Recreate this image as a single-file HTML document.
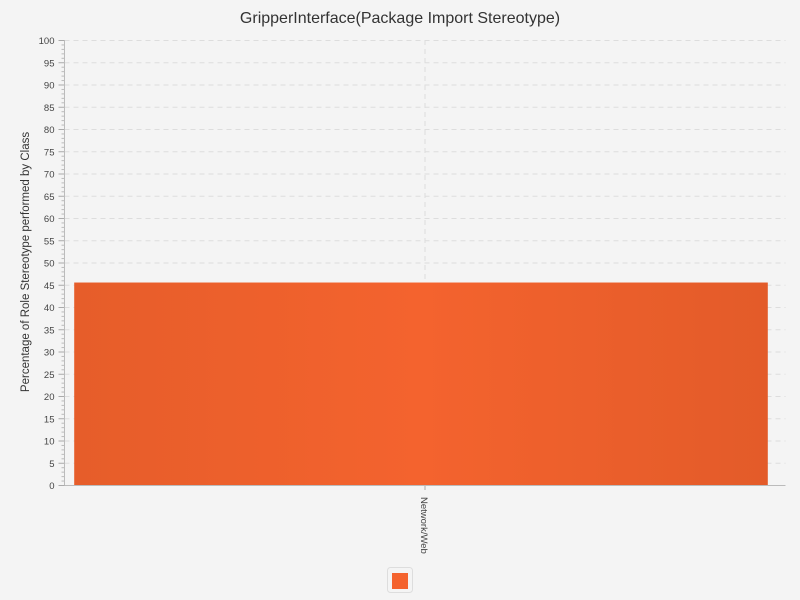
<!DOCTYPE html>
<html><head><meta charset="utf-8"><style>
body{margin:0;background:#f4f4f4;font-family:"Liberation Sans",sans-serif;overflow:hidden;}
svg{display:block;}
</style></head><body>
<svg width="800" height="600" xmlns="http://www.w3.org/2000/svg">
<defs><linearGradient id="g" x1="0" x2="1"><stop offset="0" stop-color="#e65d2a"/><stop offset="0.5" stop-color="#f4632e"/><stop offset="1" stop-color="#e35b29"/></linearGradient></defs>
<rect width="800" height="600" fill="#f4f4f4"/>
<text x="400" y="23" text-anchor="middle" font-size="16" fill="#333">GripperInterface(Package Import Stereotype)</text>
<text transform="translate(29,262) rotate(-90)" text-anchor="middle" font-size="11.5" fill="#333">Percentage of Role Stereotype performed by Class</text>
<g id="grid"></g><g id="bars"></g><g id="axes"></g>
<g>
<rect x="387.5" y="567.5" width="25" height="25" rx="3" fill="#f4f4f4" stroke="#ddd"/>
<rect x="392" y="573" width="16" height="16" fill="#f4632e"/>
</g>
</svg>
<script>
const categories=["Network/Web"];
const values=[45.5];
const yTicks=[0,5,10,15,20,25,30,35,40,45,50,55,60,65,70,75,80,85,90,95,100];
const NS="http://www.w3.org/2000/svg";
const L=64.5,R=785.5,T=40,B=485;
const y=v=>B-(v/100)*(B-T);
const band=(R-L)/categories.length;
const xc=i=>L+band*(i+0.5);
function mk(t,a,p){const e=document.createElementNS(NS,t);for(const k in a)e.setAttribute(k,a[k]);p.appendChild(e);return e;}
const grid=document.getElementById('grid'),axes=document.getElementById('axes'),bars=document.getElementById('bars');
yTicks.forEach(v=>{
 if(v>0){const g=mk('line',{x1:L,x2:R,y1:y(v)+.5,y2:y(v)+.5,stroke:'#ddd','stroke-dasharray':'5,4'},grid);
 
 }
 const t=mk('text',{x:L-10,y:y(v)+4,'text-anchor':'end','font-size':'9.5',fill:'#444'},axes);t.textContent=v;
 
 
 mk('line',{x1:L-6,x2:L,y1:y(v)+.5,y2:y(v)+.5,stroke:'#aaa'},axes);
});
for(let v=0;v<100;v++){if(v%5)mk('line',{x1:L-3,x2:L,y1:y(v)+.5,y2:y(v)+.5,stroke:'#bbb'},axes);}
categories.forEach((c,i)=>{
 mk('line',{x1:xc(i),x2:xc(i),y1:T,y2:B,stroke:'#ddd','stroke-dasharray':'5,4'},grid);
 const w=band*0.962;
 const r=mk('rect',{x:xc(i)-w/2-4,y:y(values[i]),width:w,height:B-y(values[i]),fill:'url(#g)'},bars);
 
 
 mk('line',{x1:xc(i),x2:xc(i),y1:B,y2:B+5,stroke:'#aaa'},axes);
 const t=mk('text',{transform:`translate(${xc(i)-4},${B+12}) rotate(90)`,'font-size':'9.5',fill:'#444'},axes);t.textContent=c;
 
 
});
mk('line',{x1:L,x2:L,y1:T,y2:B,stroke:'#bbb'},axes);
mk('line',{x1:L,x2:R,y1:B+.5,y2:B+.5,stroke:'#bbb'},axes);
</script>
</body></html>
